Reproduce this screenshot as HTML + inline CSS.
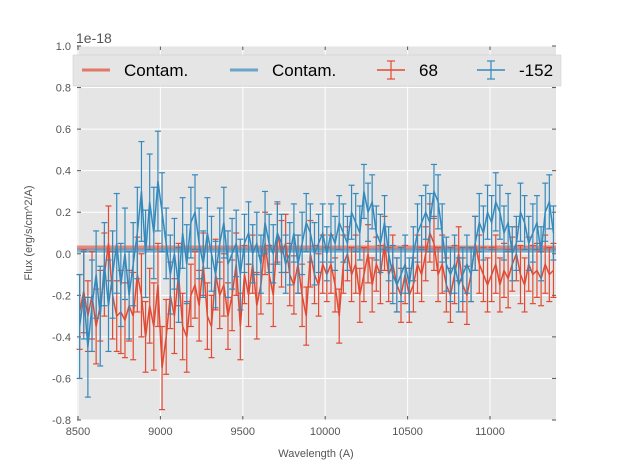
<!DOCTYPE html>
<html><head><meta charset="utf-8"><style>
body{margin:0;background:#fff;font-family:"Liberation Sans",sans-serif}
svg{display:block}
</style></head><body>
<svg id="chart" width="617" height="467" xmlns="http://www.w3.org/2000/svg" font-family="Liberation Sans, sans-serif"></svg>
<script>
const xTicks=[8500,9000,9500,10000,10500,11000];
const xTickLabels=["8500","9000","9500","10000","10500","11000"];
const yTicks=[-0.8,-0.6,-0.4,-0.2,0.0,0.2,0.4,0.6,0.8,1.0];
const yTickLabels=["-0.8","-0.6","-0.4","-0.2","0.0","0.2","0.4","0.6","0.8","1.0"];
const wlStart=8510, wlStep=25;
const red68=[-0.28,-0.18,-0.3,-0.2,-0.35,-0.25,-0.1,0.05,-0.2,-0.3,-0.28,-0.32,-0.25,-0.3,-0.1,-0.2,-0.4,-0.25,-0.35,-0.15,
-0.55,-0.4,-0.2,-0.3,-0.1,-0.35,-0.4,-0.2,-0.15,-0.25,-0.05,-0.3,-0.35,-0.1,-0.2,-0.15,-0.3,-0.2,-0.05,-0.35,
-0.1,-0.2,-0.05,-0.25,-0.15,0.05,-0.1,-0.2,0.1,0.0,0.05,-0.1,-0.15,-0.05,-0.2,-0.3,0.0,-0.1,-0.15,-0.05,
-0.1,-0.05,-0.15,-0.3,-0.05,0.0,-0.1,-0.05,-0.2,-0.1,0.0,-0.15,-0.05,-0.1,0.05,-0.1,-0.05,-0.15,-0.2,-0.1,
-0.2,-0.15,-0.05,-0.1,0.0,0.1,0.05,-0.1,-0.05,-0.15,-0.2,-0.1,0.0,-0.15,-0.2,-0.1,0.05,-0.05,-0.1,-0.15,
-0.1,-0.05,-0.15,-0.08,-0.12,-0.05,0.0,-0.1,-0.15,-0.05,-0.1,-0.08,-0.12,-0.05,-0.1,-0.08];
const redErr=[0.18,0.2,0.17,0.21,0.18,0.17,0.2,0.18,0.21,0.17,0.2,0.18,0.17,0.21,0.18,0.2,0.17,0.18,0.21,0.2,
0.2,0.18,0.16,0.18,0.15,0.16,0.17,0.15,0.16,0.17,0.15,0.16,0.15,0.17,0.16,0.15,0.16,0.17,0.15,0.16,
0.14,0.15,0.14,0.16,0.14,0.15,0.14,0.15,0.14,0.16,0.14,0.15,0.14,0.14,0.15,0.14,0.16,0.14,0.15,0.14,
0.13,0.14,0.13,0.13,0.14,0.13,0.13,0.14,0.13,0.13,0.14,0.13,0.13,0.14,0.13,0.13,0.14,0.13,0.13,0.14,
0.13,0.13,0.14,0.13,0.13,0.14,0.13,0.13,0.14,0.13,0.13,0.14,0.13,0.13,0.14,0.13,0.13,0.14,0.13,0.13,
0.13,0.14,0.13,0.13,0.14,0.13,0.13,0.14,0.13,0.13,0.14,0.13,0.13,0.14,0.13,0.13];
const blue152=[-0.35,-0.2,-0.45,-0.25,-0.1,-0.3,-0.05,-0.25,-0.1,0.05,-0.15,0.0,-0.2,-0.05,0.1,0.3,0.0,0.25,0.1,0.35,
0.2,0.05,-0.1,0.0,-0.15,0.1,-0.05,0.15,0.2,0.05,-0.05,0.1,0.0,-0.1,0.05,0.15,-0.05,0.0,0.05,-0.1,
0.05,0.1,0.0,0.05,-0.05,0.15,0.05,0.0,0.1,0.05,-0.05,0.0,0.1,-0.05,0.05,0.15,0.1,0.0,0.05,0.1,
0.0,0.1,0.05,0.15,0.1,0.05,0.2,0.15,0.1,0.3,0.2,0.25,0.1,0.05,0.15,0.0,-0.1,-0.15,-0.1,-0.05,
-0.15,0.0,0.1,0.15,0.2,0.15,0.3,0.25,0.1,-0.05,-0.1,-0.05,-0.15,-0.1,-0.05,-0.1,0.05,0.15,0.1,0.2,
0.15,0.25,0.2,0.1,0.15,0.0,0.05,0.2,0.15,0.05,0.1,0.15,0.0,0.2,0.25,0.1];
const blueErr=[0.25,0.21,0.24,0.22,0.21,0.24,0.2,0.22,0.21,0.24,0.2,0.22,0.21,0.2,0.22,0.24,0.21,0.23,0.22,0.24,
0.19,0.17,0.19,0.17,0.18,0.17,0.19,0.17,0.18,0.17,0.16,0.17,0.18,0.16,0.17,0.17,0.16,0.17,0.16,0.17,
0.14,0.15,0.14,0.15,0.14,0.15,0.14,0.14,0.15,0.14,0.14,0.15,0.14,0.14,0.15,0.14,0.14,0.15,0.14,0.14,
0.13,0.14,0.13,0.13,0.14,0.13,0.13,0.14,0.13,0.13,0.14,0.13,0.13,0.14,0.13,0.13,0.14,0.13,0.13,0.14,
0.13,0.13,0.14,0.13,0.13,0.14,0.13,0.13,0.14,0.13,0.13,0.14,0.13,0.13,0.14,0.13,0.13,0.14,0.13,0.13,
0.13,0.14,0.13,0.13,0.14,0.13,0.13,0.14,0.13,0.13,0.14,0.13,0.13,0.14,0.13,0.13];
const contamRed=0.03, contamBlue=0.015;

const svg=document.getElementById('chart');
const NS='http://www.w3.org/2000/svg';
const L=77,R=556,T=46,B=420;
const X=v=>78+(v-8500)*(412/2500);
const Y=v=>T+(1.0-v)*(B-T)/1.8;
function mk(tag,attrs,parent){const e=document.createElementNS(NS,tag);for(const k in attrs)e.setAttribute(k,attrs[k]);(parent||svg).appendChild(e);return e;}

let bg=mk('rect',{x:L,y:T,width:R-L,height:B-T,fill:'#E5E5E5'});


xTicks.forEach((t,i)=>{
 let g=mk('line',{x1:X(t),x2:X(t),y1:T,y2:B,stroke:'#fff','stroke-width':1});
 
 
 mk('line',{x1:X(t),x2:X(t),y1:B,y2:B-4,stroke:'#555'});
 mk('line',{x1:X(t),x2:X(t),y1:T,y2:T+4,stroke:'#555'});
 let tx=mk('text',{x:X(t),y:B+15,'text-anchor':'middle','font-size':11,fill:'#555'});
 tx.textContent=xTickLabels[i];
 
 
});
yTicks.forEach((t,i)=>{
 let g=mk('line',{x1:L,x2:R,y1:Y(t),y2:Y(t),stroke:'#fff','stroke-width':1});
 
 
 mk('line',{x1:L,x2:L+4,y1:Y(t),y2:Y(t),stroke:'#555'});
 mk('line',{x1:R,x2:R-4,y1:Y(t),y2:Y(t),stroke:'#555'});
 let tx=mk('text',{x:L-6,y:Y(t)+4,'text-anchor':'end','font-size':11,fill:'#555'});
 tx.textContent=yTickLabels[i];
 
 
});
function series(vals,errs,color,name){
 const g=mk('g',{});
 
 
 vals.forEach((v,i)=>{
  const x=X(wlStart+i*wlStep),y1=Y(v+errs[i]),y2=Y(v-errs[i]);
  mk('line',{x1:x,x2:x,y1:y1,y2:y2,stroke:color,'stroke-width':1.2},g);
  mk('line',{x1:x-3,x2:x+3,y1:y1,y2:y1,stroke:color,'stroke-width':1.2},g);
  mk('line',{x1:x-3,x2:x+3,y1:y2,y2:y2,stroke:color,'stroke-width':1.2},g);
 });
 const pts=vals.map((v,i)=>X(wlStart+i*wlStep)+','+Y(v)).join(' ');
 mk('polyline',{points:pts,fill:'none',stroke:color,'stroke-width':1.5},g);
}
let cr=mk('line',{x1:L,x2:R,y1:Y(contamRed),y2:Y(contamRed),stroke:'#E24A33','stroke-width':4,'stroke-opacity':0.6});


let cb=mk('line',{x1:L,x2:R,y1:Y(contamBlue),y2:Y(contamBlue),stroke:'#348ABD','stroke-width':4,'stroke-opacity':0.6});


series(red68,redErr,'#E24A33','series-68');
series(blue152,blueErr,'#348ABD','series-minus-152');

// legend
const lg=mk('g',{});


mk('rect',{x:73,y:55,width:488,height:31,fill:'#E5E5E5',stroke:'#ccc','stroke-width':0.5},lg);
function entry(x,color,label,err){
 const e=mk('g',{},lg);
 
 
 if(err){
  mk('line',{x1:x,x2:x+28,y1:70,y2:70,stroke:color,'stroke-width':1.5},e);
  mk('line',{x1:x+14,x2:x+14,y1:61,y2:79,stroke:color,'stroke-width':1.2},e);
  mk('line',{x1:x+10,x2:x+18,y1:61,y2:61,stroke:color,'stroke-width':1.2},e);
  mk('line',{x1:x+10,x2:x+18,y1:79,y2:79,stroke:color,'stroke-width':1.2},e);
 } else mk('line',{x1:x,x2:x+28,y1:70,y2:70,stroke:color,'stroke-width':3,'stroke-opacity':0.7},e);
 const t=mk('text',{x:x+42,y:76,'font-size':17,fill:'#000'},e);
 t.textContent=label;
}
entry(82,'#E24A33','Contam.',false);
entry(230,'#348ABD','Contam.',false);
entry(377,'#E24A33','68',true);
entry(477,'#348ABD','-152',true);

let off=mk('text',{x:76,y:43,'font-size':14,fill:'#555'});off.textContent='1e-18';


let xl=mk('text',{x:316,y:457,'text-anchor':'middle','font-size':11,fill:'#555'});xl.textContent='Wavelength (A)';


let yl=mk('text',{x:32,y:233,'text-anchor':'middle','font-size':11,fill:'#555',transform:'rotate(-90 32 233)'});yl.textContent='Flux (erg/s/cm^2/A)';


</script>
</body></html>
